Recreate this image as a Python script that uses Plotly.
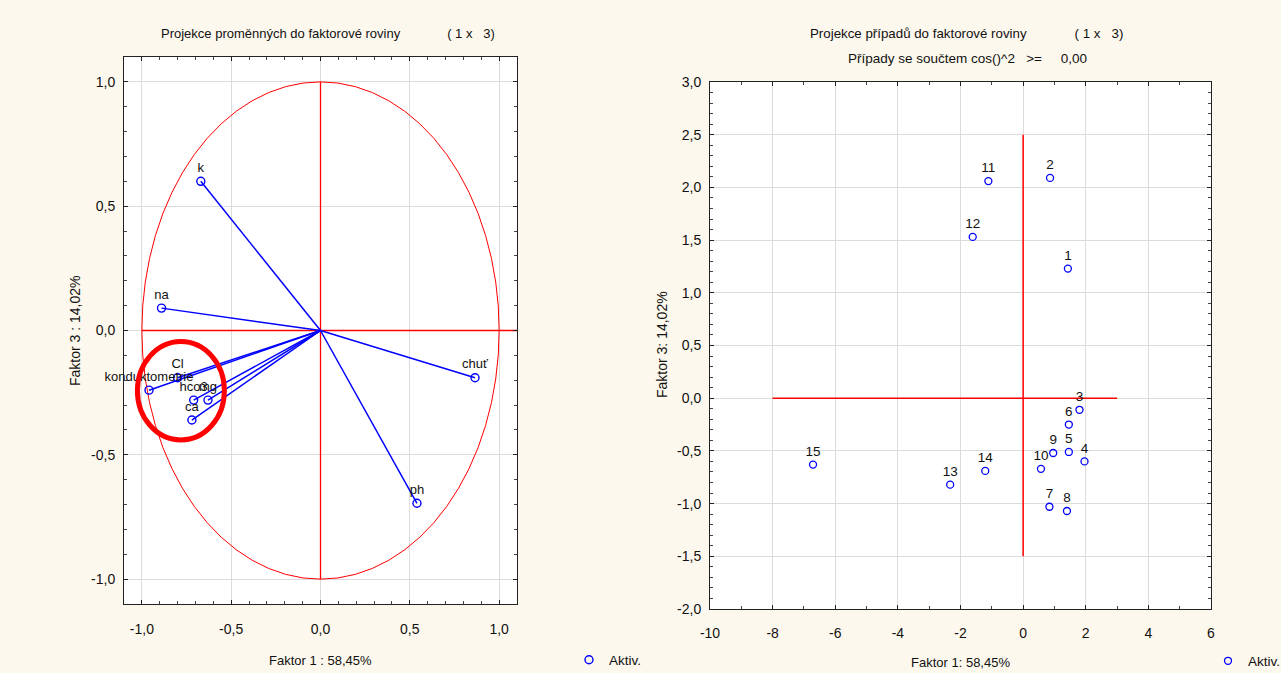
import plotly.graph_objects as go

# Variable loadings on factors 1 and 3
var_names = ["k", "na", "konduktometrie", "Cl", "hco3", "mg", "ca", "chuť", "ph"]
var_f1 = [-0.67, -0.89, -0.96, -0.80, -0.71, -0.63, -0.72, 0.865, 0.54]
var_f3 = [0.60, 0.09, -0.24, -0.19, -0.28, -0.28, -0.36, -0.19, -0.695]

# Case scores on factors 1 and 3
case_labels = [str(i) for i in range(1, 16)]
case_f1 = [1.43, 0.86, 1.80, 1.96, 1.46, 1.46, 0.84, 1.40, 0.96, 0.57,
           -1.11, -1.61, -2.33, -1.21, -6.71]
case_f3 = [1.23, 2.09, -0.11, -0.60, -0.51, -0.25, -1.03, -1.07, -0.52, -0.67,
           2.06, 1.53, -0.82, -0.69, -0.63]

# Axis ranges and tick positions
left_range = [-1.1, 1.1]
left_ticks = [-1.0, -0.5, 0.0, 0.5, 1.0]
right_x_range = [-10, 6]
right_x_ticks = [-10, -8, -6, -4, -2, 0, 2, 4, 6]
right_y_range = [-2.0, 3.0]
right_y_ticks = [-2.0, -1.5, -1.0, -0.5, 0.0, 0.5, 1.0, 1.5, 2.0, 2.5, 3.0]

# Reference cross lines in the case plot
case_hline_x = [-8, 3]
case_vline_y = [-1.5, 2.5]

BLUE = "#0000ff"
RED = "#ff0000"
CREAM = "#fdf8ed"
FONT = "Liberation Sans, Arial, sans-serif"
TXT = "#111111"


def tick_text(values, decimals):
    # decimal comma and a plain hyphen for negative numbers
    return [f"{v:.{decimals}f}".replace(".", ",") for v in values]


fig = go.Figure()

# Vectors from the origin to each variable
vx, vy = [], []
for a, b in zip(var_f1, var_f3):
    vx += [0, a, None]
    vy += [0, b, None]
fig.add_trace(go.Scatter(x=vx, y=vy, mode="lines", line=dict(color=BLUE, width=1.5),
                         hoverinfo="skip", showlegend=False, xaxis="x", yaxis="y"))
fig.add_trace(go.Scatter(x=var_f1, y=var_f3, mode="markers+text", text=var_names,
                         textposition="top center", cliponaxis=False,
                         textfont=dict(family=FONT, size=13, color=TXT),
                         marker=dict(symbol="circle-open", size=8, color=BLUE,
                                     line=dict(width=1.4, color=BLUE)),
                         name="Aktiv.", legend="legend", xaxis="x", yaxis="y"))

fig.add_trace(go.Scatter(x=case_f1, y=case_f3, mode="markers+text", text=case_labels,
                         textposition="top center", cliponaxis=False,
                         textfont=dict(family=FONT, size=13.5, color=TXT),
                         marker=dict(symbol="circle-open", size=7, color=BLUE,
                                     line=dict(width=1.3, color=BLUE)),
                         name="Aktiv.", legend="legend2", xaxis="x2", yaxis="y2"))

shapes = [
    # unit circle of correlations
    dict(type="circle", xref="x", yref="y", x0=-1, x1=1, y0=-1, y1=1,
         line=dict(color=RED, width=1), layer="between"),
    dict(type="line", xref="x", yref="y", x0=0, x1=0, y0=-1, y1=1,
         line=dict(color=RED, width=1.3), layer="between"),
    dict(type="line", xref="x", yref="y", x0=-1, x1=left_range[1], y0=0, y1=0,
         line=dict(color=RED, width=1.3), layer="between"),
    # highlighted group of ion variables
    dict(type="circle", xref="x", yref="y", x0=-1.025, x1=-0.538, y0=-0.44, y1=-0.044,
         line=dict(color=RED, width=5)),
    # case plot cross
    dict(type="line", xref="x2", yref="y2", x0=case_hline_x[0], x1=case_hline_x[1],
         y0=0, y1=0, line=dict(color=RED, width=1.5), layer="between"),
    dict(type="line", xref="x2", yref="y2", x0=0, x1=0,
         y0=case_vline_y[0], y1=case_vline_y[1], line=dict(color=RED, width=1.5),
         layer="between"),
]

nb = "\u00a0"
W, H = 1281, 673


def note(text, px, py, angle=0, size=13):
    return dict(text=text, x=px / W, y=1 - py / H, xref="paper", yref="paper",
                xanchor="center", yanchor="middle", showarrow=False, textangle=angle,
                font=dict(family=FONT, size=size, color=TXT))


annotations = [
    note("Projekce proměnných do faktorové roviny" + nb * 13 + "(" + nb + "1" + nb + "x" + nb * 3 + "3)", 328, 33),
    note("Projekce případů do faktorové roviny" + nb * 13 + "(" + nb + "1" + nb + "x" + nb * 3 + "3)", 967, 33, size=13.3),
    note("Případy se součtem cos()^2" + nb * 3 + ">=" + nb * 5 + "0,00", 968, 58, size=13.5),
    note("Faktor 1 : 58,45%", 320, 660),
    note("Faktor 1: 58,45%", 960, 662),
    note("Faktor 3 : 14,02%", 75, 331, -90, 14),
    note("Faktor 3: 14,02%", 662, 345, -90, 14),
]


def axis_style(rng, ticks, decimals, minor_dtick, domain, anchor, standoff):
    return dict(range=rng, tickmode="array", tickvals=ticks,
                ticktext=tick_text(ticks, decimals), domain=domain, anchor=anchor,
                showgrid=True, gridcolor="#dcdcdc", gridwidth=1,
                zeroline=False, showline=True, linecolor="#222", linewidth=1,
                mirror="allticks", ticks="inside", ticklen=4, tickcolor="#222",
                automargin=False, ticklabelstandoff=standoff,
                minor=dict(dtick=minor_dtick, tick0=0, ticks="inside", ticklen=3,
                           tickcolor="#444", showgrid=False),
                tickfont=dict(family=FONT, size=14, color=TXT))


fig.update_layout(
    width=W, height=H, autosize=False,
    margin=dict(l=0, r=0, t=0, b=0, autoexpand=False),
    paper_bgcolor=CREAM, plot_bgcolor="white",
    xaxis=axis_style(left_range, left_ticks, 1, 0.1, [124 / W, 517 / W], "y", 12),
    yaxis=axis_style(left_range, left_ticks, 1, 0.1, [1 - 604 / H, 1 - 57 / H], "x", 5),
    xaxis2=axis_style(right_x_range, right_x_ticks, 0, 1, [710 / W, 1211 / W], "y2", 11),
    yaxis2=axis_style(right_y_range, right_y_ticks, 1, 0.1, [1 - 609 / H, 1 - 82 / H], "x2", 5),
    legend=dict(x=569 / W, y=1 - 660 / H, xanchor="left", yanchor="middle",
                bgcolor="rgba(0,0,0,0)", font=dict(family=FONT, size=13.5, color=TXT),
                itemwidth=30),
    legend2=dict(x=1208 / W, y=1 - 661 / H, xanchor="left", yanchor="middle",
                 bgcolor="rgba(0,0,0,0)", font=dict(family=FONT, size=13.5, color=TXT),
                 itemwidth=30),
    shapes=shapes,
    annotations=annotations,
    showlegend=True,
)

fig.write_html("out.html")
